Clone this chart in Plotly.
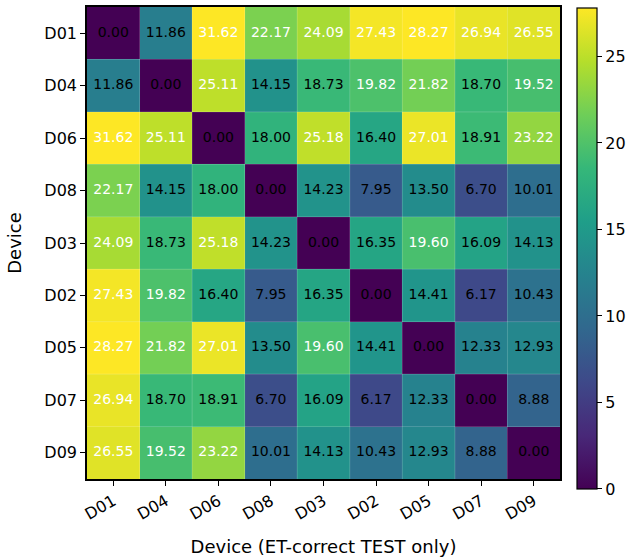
import plotly.graph_objects as go

devices = ["D01", "D04", "D06", "D08", "D03", "D02", "D05", "D07", "D09"]

row_D01 = [0.00, 11.86, 31.62, 22.17, 24.09, 27.43, 28.27, 26.94, 26.55]
row_D04 = [11.86, 0.00, 25.11, 14.15, 18.73, 19.82, 21.82, 18.70, 19.52]
row_D06 = [31.62, 25.11, 0.00, 18.00, 25.18, 16.40, 27.01, 18.91, 23.22]
row_D08 = [22.17, 14.15, 18.00, 0.00, 14.23, 7.95, 13.50, 6.70, 10.01]
row_D03 = [24.09, 18.73, 25.18, 14.23, 0.00, 16.35, 19.60, 16.09, 14.13]
row_D02 = [27.43, 19.82, 16.40, 7.95, 16.35, 0.00, 14.41, 6.17, 10.43]
row_D05 = [28.27, 21.82, 27.01, 13.50, 19.60, 14.41, 0.00, 12.33, 12.93]
row_D07 = [26.94, 18.70, 18.91, 6.70, 16.09, 6.17, 12.33, 0.00, 8.88]
row_D09 = [26.55, 19.52, 23.22, 10.01, 14.13, 10.43, 12.93, 8.88, 0.00]

matrix = [row_D01, row_D04, row_D06, row_D08, row_D03, row_D02, row_D05, row_D07, row_D09]

zmin, zmax = 0.0, 27.8
thresh = 0.7 * zmax

fig = go.Figure()
fig.add_trace(go.Heatmap(
    z=matrix, x=devices, y=devices,
    colorscale="Viridis", zmin=zmin, zmax=zmax,
    hoverinfo="skip",
    colorbar=dict(
        x=1.036, xanchor="left", xref="paper", xpad=0, ypad=0,
        y=0.998, yanchor="top", len=1.02, lenmode="fraction",
        thickness=20, outlinecolor="black", outlinewidth=1.2,
        tickvals=[0, 5, 10, 15, 20, 25], ticks="outside", ticklen=5,
        tickwidth=1.2, tickcolor="black",
        tickfont=dict(family="DejaVu Sans", size=16, color="black"),
    ),
))

xs, ys, txt, cols = [], [], [], []
for i, r in enumerate(devices):
    for j, c in enumerate(devices):
        v = matrix[i][j]
        xs.append(c)
        ys.append(r)
        txt.append(f"{v:.2f}")
        cols.append("white" if v > thresh else "black")

fig.add_trace(go.Scatter(
    x=xs, y=ys, mode="text", text=txt,
    textfont=dict(family="DejaVu Sans", size=14, color=cols),
    hoverinfo="skip", showlegend=False,
))

# faint cell edges at category boundaries
n = len(devices)
shapes = []
for k in range(1, n):
    b = k - 0.5
    shapes.append(dict(type="line", xref="x", yref="paper", x0=b, x1=b, y0=0, y1=1,
                       line=dict(color="rgba(255,255,255,0.18)", width=1), layer="above"))
    shapes.append(dict(type="line", xref="paper", yref="y", x0=0, x1=1, y0=b, y1=b,
                       line=dict(color="rgba(255,255,255,0.18)", width=1), layer="above"))

axis_common = dict(
    showline=True, linecolor="black", linewidth=1.5, mirror=True,
    ticks="outside", ticklen=5, tickwidth=1.2, tickcolor="black",
    showgrid=False, zeroline=False,
    tickfont=dict(family="DejaVu Sans", size=16, color="black"),
    categoryorder="array", categoryarray=devices,
)

fig.update_layout(
    width=636, height=560,
    margin=dict(l=87, r=76, t=7, b=81, autoexpand=False),
    paper_bgcolor="white", plot_bgcolor="white",
    showlegend=False,
    shapes=shapes,
    xaxis=dict(**axis_common, tickangle=-30,
               title=dict(text="Device (ET-correct TEST only)",
                          font=dict(family="DejaVu Sans", size=18, color="black"),
                          standoff=18)),
    yaxis=dict(**axis_common, autorange="reversed",
               title=dict(text="Device",
                          font=dict(family="DejaVu Sans", size=18, color="black"),
                          standoff=18)),
)

fig.write_html("out.html")
